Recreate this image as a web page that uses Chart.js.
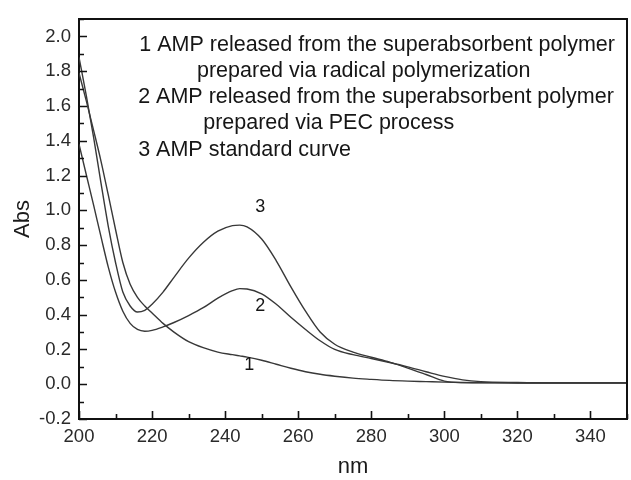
<!DOCTYPE html>
<html>
<head>
<meta charset="utf-8">
<script src="https://cdn.jsdelivr.net/npm/chart.js@4"></script>
<style>
  html, body { margin: 0; padding: 0; background: #fff; overflow: hidden; }
  #wrap { width: 631px; height: 480px; overflow: hidden; }
</style>
</head>
<body>
<div id="wrap"><canvas id="plot" width="634" height="480"></canvas></div>
<script>
// wavelength grid (nm) shared by the three spectra
const wavelengths = [200, 202, 204, 206, 208, 210, 212, 214, 216, 218, 220, 223, 226, 230, 234, 238, 242, 244, 246,
  250, 254, 258, 262, 266, 270, 275, 280, 285, 290, 295, 300, 305, 310, 320, 330, 340, 350];

// 1: radical polymerization
const curve1 = [1.79, 1.63, 1.46, 1.285, 1.09, 0.89, 0.70, 0.575, 0.50, 0.45, 0.41, 0.35, 0.30, 0.245, 0.21, 0.185, 0.17, 0.163, 0.156,
  0.138, 0.115, 0.092, 0.072, 0.057, 0.046, 0.035, 0.028, 0.022, 0.018, 0.015, 0.012, 0.010, 0.009, 0.008, 0.008, 0.008, 0.008];
// 2: PEC process
const curve2 = [1.38, 1.205, 1.03, 0.85, 0.675, 0.53, 0.42, 0.35, 0.315, 0.305, 0.31, 0.33, 0.355, 0.395, 0.44, 0.495, 0.538, 0.55, 0.548,
  0.52, 0.46, 0.385, 0.315, 0.25, 0.20, 0.17, 0.148, 0.125, 0.10, 0.072, 0.045, 0.025, 0.015, 0.010, 0.008, 0.008, 0.008];
// 3: AMP standard curve
const curve3 = [1.88, 1.66, 1.42, 1.16, 0.91, 0.70, 0.53, 0.45, 0.415, 0.425, 0.46, 0.53, 0.615, 0.725, 0.815, 0.88, 0.912, 0.915, 0.905,
  0.835, 0.71, 0.56, 0.42, 0.30, 0.23, 0.185, 0.155, 0.127, 0.093, 0.056, 0.018, 0.009, 0.008, 0.007, 0.007, 0.007, 0.007];

// curve numbers placed next to the curves (nm, Abs)
const curveLabels = ["1", "2", "3"];
const curveLabelX = [246.6, 249.6, 249.6];
const curveLabelY = [0.108, 0.449, 1.017];

// legend text block (start nm, centre Abs)
const noteLines = [
  "1 AMP released from the superabsorbent polymer",
  "prepared via radical polymerization",
  "2 AMP released from the superabsorbent polymer",
  "prepared via PEC process",
  "3 AMP standard curve"
];
const noteX = [216.5, 232.3, 216.2, 234.0, 216.2];
const noteY = [1.95, 1.80, 1.652, 1.504, 1.348];

const lineColor = "#383838";
const fontFamily = "'Liberation Sans', Arial, sans-serif";

function series(values) {
  return wavelengths.map((w, i) => ({ x: w, y: values[i] }));
}

const isMajorX = v => Math.round(v) % 20 === 0;
const isMajorY = v => Math.round(v * 10) % 2 === 0;

// inward tick marks, top frame and text annotations
const decorations = {
  id: "decorations",
  afterDraw(chart) {
    const ctx = chart.ctx;
    const area = chart.chartArea;
    const xs = chart.scales.x, ys = chart.scales.y;
    ctx.save();
    ctx.strokeStyle = "#111";
    ctx.lineWidth = 1.6;
    ctx.beginPath();
    xs.ticks.forEach(t => {
      const px = Math.round(xs.getPixelForValue(t.value)) + 0.5;
      const len = isMajorX(t.value) ? 8 : 5;
      ctx.moveTo(px, area.bottom);
      ctx.lineTo(px, area.bottom - len);
    });
    ys.ticks.forEach(t => {
      const py = Math.round(ys.getPixelForValue(t.value)) + 0.5;
      const len = isMajorY(t.value) ? 8 : 5;
      ctx.moveTo(area.left, py);
      ctx.lineTo(area.left + len, py);
    });
    ctx.stroke();

    ctx.lineWidth = 2;
    ctx.beginPath();
    ctx.moveTo(area.left, area.top);
    ctx.lineTo(area.right, area.top);
    ctx.lineTo(area.right, area.bottom);
    ctx.stroke();

    ctx.fillStyle = "#161616";
    ctx.textBaseline = "middle";
    ctx.textAlign = "left";
    ctx.font = "21.5px " + fontFamily;
    noteLines.forEach((s, i) => {
      ctx.fillText(s, xs.getPixelForValue(noteX[i]), ys.getPixelForValue(noteY[i]));
    });

    ctx.textAlign = "center";
    ctx.font = "18px " + fontFamily;
    curveLabels.forEach((s, i) => {
      ctx.fillText(s, xs.getPixelForValue(curveLabelX[i]), ys.getPixelForValue(curveLabelY[i]));
    });
    ctx.restore();
  }
};

new Chart("plot", {
  type: "line",
  data: {
    datasets: [
      { label: "1", data: series(curve1) },
      { label: "2", data: series(curve2) },
      { label: "3", data: series(curve3) }
    ]
  },
  options: {
    responsive: false,
    animation: false,
    devicePixelRatio: 1,
    layout: { padding: { top: 14, right: 1, bottom: 0, left: 0 } },
    elements: {
      point: { radius: 0 },
      line: { borderColor: lineColor, borderWidth: 1.4, cubicInterpolationMode: "monotone", fill: false }
    },
    plugins: { legend: { display: false }, tooltip: { enabled: false } },
    scales: {
      x: {
        type: "linear",
        min: 200,
        max: 350,
        grid: { display: false, drawTicks: false },
        border: { display: true, color: "#111", width: 2 },
        ticks: {
          stepSize: 10,
          autoSkip: false,
          maxRotation: 0,
          padding: 7,
          color: "#2a2a2a",
          font: { family: fontFamily, size: 18.5 },
          callback: v => (isMajorX(v) && v < 350 ? String(v) : "")
        },
        title: {
          display: true,
          text: "nm",
          color: "#1a1a1a",
          padding: { top: 0, bottom: 0 },
          font: { family: fontFamily, size: 22 }
        },
        afterFit: s => { s.height = 61; }
      },
      y: {
        min: -0.2,
        max: 2.1,
        grid: { display: false, drawTicks: false },
        border: { display: true, color: "#111", width: 2 },
        ticks: {
          stepSize: 0.1,
          autoSkip: false,
          padding: 8,
          color: "#2a2a2a",
          font: { family: fontFamily, size: 18.5 },
          callback: v => (isMajorY(v) && v < 2.05 ? v.toFixed(1) : "")
        },
        title: {
          display: true,
          text: "Abs",
          color: "#1a1a1a",
          padding: { top: 10, bottom: 0 },
          font: { family: fontFamily, size: 22 }
        },
        afterFit: s => { s.width = 79; }
      }
    }
  },
  plugins: [decorations]
});
</script>
</body>
</html>
